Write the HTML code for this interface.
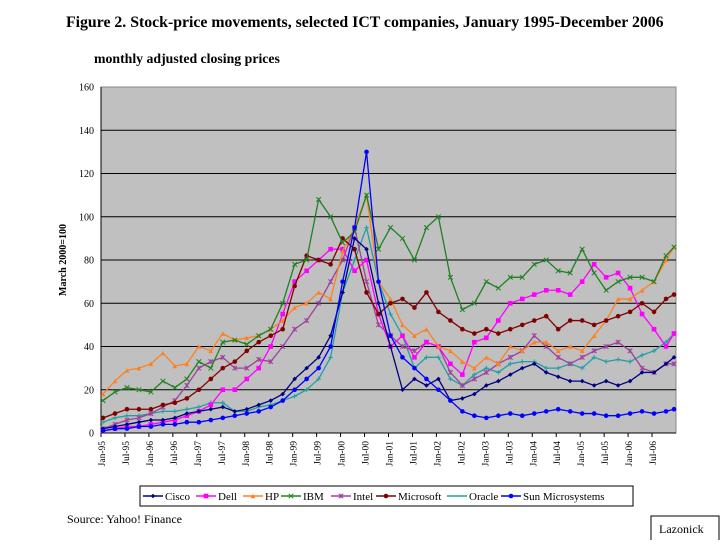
<!DOCTYPE html>
<html><head><meta charset="utf-8"><style>
body{margin:0;background:#fff;width:720px;height:540px;overflow:hidden;font-family:"Liberation Serif",serif}
</style></head><body>
<svg id="c" width="720" height="540" xmlns="http://www.w3.org/2000/svg" font-family="Liberation Serif, serif">
<text x="66" y="27" font-size="15.8" font-weight="bold">Figure 2.  Stock-price movements, selected ICT companies, January 1995-December 2006</text>
<text x="94" y="63" font-size="13.8" font-weight="bold">monthly adjusted closing prices</text>
<rect x="101" y="87" width="575" height="346" fill="#c0c0c0" stroke="#888"/>
<g id="grid"></g>
<g id="series"></g>
<text transform="translate(66,260) rotate(-90)" text-anchor="middle" font-size="10" font-weight="bold">March 2000=100</text>
<rect x="140" y="486" width="493" height="20" fill="#fff" stroke="#000"/>
<g id="legend"></g>
<text x="67" y="523" font-size="12">Source: Yahoo! Finance</text>
<rect x="651" y="516" width="68" height="26" fill="#fff" stroke="#000"/>
<text x="659" y="533" font-size="12">Lazonick</text>
</svg>
<script>
const yTicks=[0,20,40,60,80,100,120,140,160];
const xTickLabels=["Jan-95","Jul-95","Jan-96","Jul-96","Jan-97","Jul-97","Jan-98","Jul-98","Jan-99","Jul-99","Jan-00","Jul-00","Jan-01","Jul-01","Jan-02","Jul-02","Jan-03","Jul-03","Jan-04","Jul-04","Jan-05","Jul-05","Jan-06","Jul-06"];
const seriesNames=["Cisco","Dell","HP","IBM","Intel","Microsoft","Oracle","Sun Microsystems"];
const cisco=[2,3,4,5,6,6,7,9,10,11,12,10,11,13,15,18,25,30,35,45,65,90,85,60,40,20,25,22,25,15,16,18,22,24,27,30,32,28,26,24,24,22,24,22,24,28,28,32,35];
const dell=[1,2,3,3,4,5,6,8,10,13,20,20,25,30,40,55,70,75,80,85,85,75,80,55,40,45,35,42,40,32,27,42,44,52,60,62,64,66,66,64,70,78,72,74,67,55,48,40,46];
const hp=[18,24,29,30,32,37,31,32,40,38,46,43,44,45,48,52,58,60,65,62,84,95,110,70,62,50,45,48,40,38,33,30,35,32,40,38,42,42,38,40,38,45,52,62,62,66,70,80,86];
const ibm=[15,19,21,20,19,24,21,25,33,30,42,43,41,45,48,60,78,80,108,100,88,93,110,85,95,90,80,95,100,72,57,60,70,67,72,72,78,80,75,74,85,74,66,70,72,72,70,82,86];
const intel=[2,4,6,7,9,12,15,22,30,33,35,30,30,34,33,40,48,52,60,70,80,95,70,50,45,40,38,42,40,28,22,25,28,32,35,38,45,40,35,32,35,38,40,42,38,30,28,32,32];
const microsoft=[7,9,11,11,11,13,14,16,20,25,30,33,38,42,45,48,68,82,80,78,90,85,65,55,60,62,58,65,56,52,48,46,48,46,48,50,52,54,48,52,52,50,52,54,56,60,56,62,64];
const oracle=[5,7,8,8,9,10,10,11,12,14,14,10,10,12,13,15,17,20,25,35,65,80,95,70,55,45,30,35,35,25,22,27,30,28,32,33,33,30,30,32,30,35,33,34,33,36,38,42,46];
const sun=[1,2,2,3,3,4,4,5,5,6,7,8,9,10,12,15,20,25,30,40,70,95,130,70,45,35,30,25,20,15,10,8,7,8,9,8,9,10,11,10,9,9,8,8,9,10,9,10,11];
const NS="http://www.w3.org/2000/svg";
const X0=101,X1=676,Y0=433,Y1=87;
const xs=m=>X0+(m/144)*(X1-X0)+2;
const ys=v=>Y0-(v/160)*(Y0-Y1);
function mk(t,a,p){const e=document.createElementNS(NS,t);for(const k in a)e.setAttribute(k,a[k]);p.appendChild(e);return e;}
const grid=document.getElementById('grid');
yTicks.forEach(v=>{
  if(v>0&&v<160){const l=mk('line',{x1:X0,x2:X1,y1:ys(v),y2:ys(v),stroke:'#000','stroke-width':1},grid);
  
  }
  const t=mk('text',{x:94,y:ys(v)+3.5,'text-anchor':'end','font-size':10},grid);t.textContent=v;
  
  
});
mk('line',{x1:X0,x2:X0,y1:Y1,y2:Y0,stroke:'#000'},grid);
mk('line',{x1:X0,x2:X1,y1:Y0,y2:Y0,stroke:'#000'},grid);
xTickLabels.forEach((s,i)=>{
  const x=X0+(i*6/144)*(X1-X0);
  mk('line',{x1:x,x2:x,y1:Y0,y2:Y0+4,stroke:'#000'},grid);
  const t=mk('text',{transform:`translate(${x+4},${Y0+8}) rotate(-90)`,'text-anchor':'end','font-size':9.5},grid);t.textContent=s;
  
  
});
const data=[cisco,dell,hp,ibm,intel,microsoft,oracle,sun];
const colors=["#000080","#ff00ff","#ff8020","#208020","#a040a0","#800000","#20a0a0","#0000ff"];
const markers=["diamond","square","tri","x","star","circle","plus","circle"];
function marker(g,type,x,y,c){
  const s=2.3;
  if(type==="diamond")mk('polygon',{points:`${x},${y-s} ${x+s},${y} ${x},${y+s} ${x-s},${y}`,fill:c},g);
  else if(type==="square")mk('rect',{x:x-s,y:y-s,width:2*s,height:2*s,fill:c},g);
  else if(type==="tri")mk('polygon',{points:`${x},${y-s} ${x+s},${y+s} ${x-s},${y+s}`,fill:c},g);
  else if(type==="circle")mk('circle',{cx:x,cy:y,r:s,fill:c},g);
  else if(type==="x")mk('path',{d:`M${x-s} ${y-s}L${x+s} ${y+s}M${x-s} ${y+s}L${x+s} ${y-s}`,stroke:c,'stroke-width':1},g);
  else if(type==="star")mk('path',{d:`M${x-s} ${y-s}L${x+s} ${y+s}M${x-s} ${y+s}L${x+s} ${y-s}M${x} ${y-s}L${x} ${y+s}`,stroke:c,'stroke-width':1},g);
  else if(type==="plus")mk('path',{d:`M${x-s} ${y}L${x+s} ${y}M${x} ${y-s}L${x} ${y+s}`,stroke:c,'stroke-width':1},g);
}
const sg=document.getElementById('series');
const order=[6,4,1,2,5,3,0,7];
order.forEach(i=>{
  const arr=data[i];
  const g=mk('g',{},sg);
  
  
  const pts=arr.map((v,k)=>[xs(Math.min(k*3,143)),ys(v)]);
  mk('polyline',{points:pts.map(p=>p.join(',')).join(' '),fill:'none',stroke:colors[i],'stroke-width':1.3},g);
  pts.forEach(p=>marker(g,markers[i],p[0],p[1],colors[i]));
});
const lg=document.getElementById('legend');
const lx=[143,196,243,281,331,376,447,501];
seriesNames.forEach((n,i)=>{
  const g=mk('g',{},lg);
  
  
  mk('line',{x1:lx[i],x2:lx[i]+20,y1:496,y2:496,stroke:colors[i],'stroke-width':1.5},g);
  if(i!==6)marker(g,markers[i],lx[i]+10,496,colors[i]);
  const t=mk('text',{x:lx[i]+22,y:500,'font-size':11},g);t.textContent=n;
});
</script>
</body></html>
